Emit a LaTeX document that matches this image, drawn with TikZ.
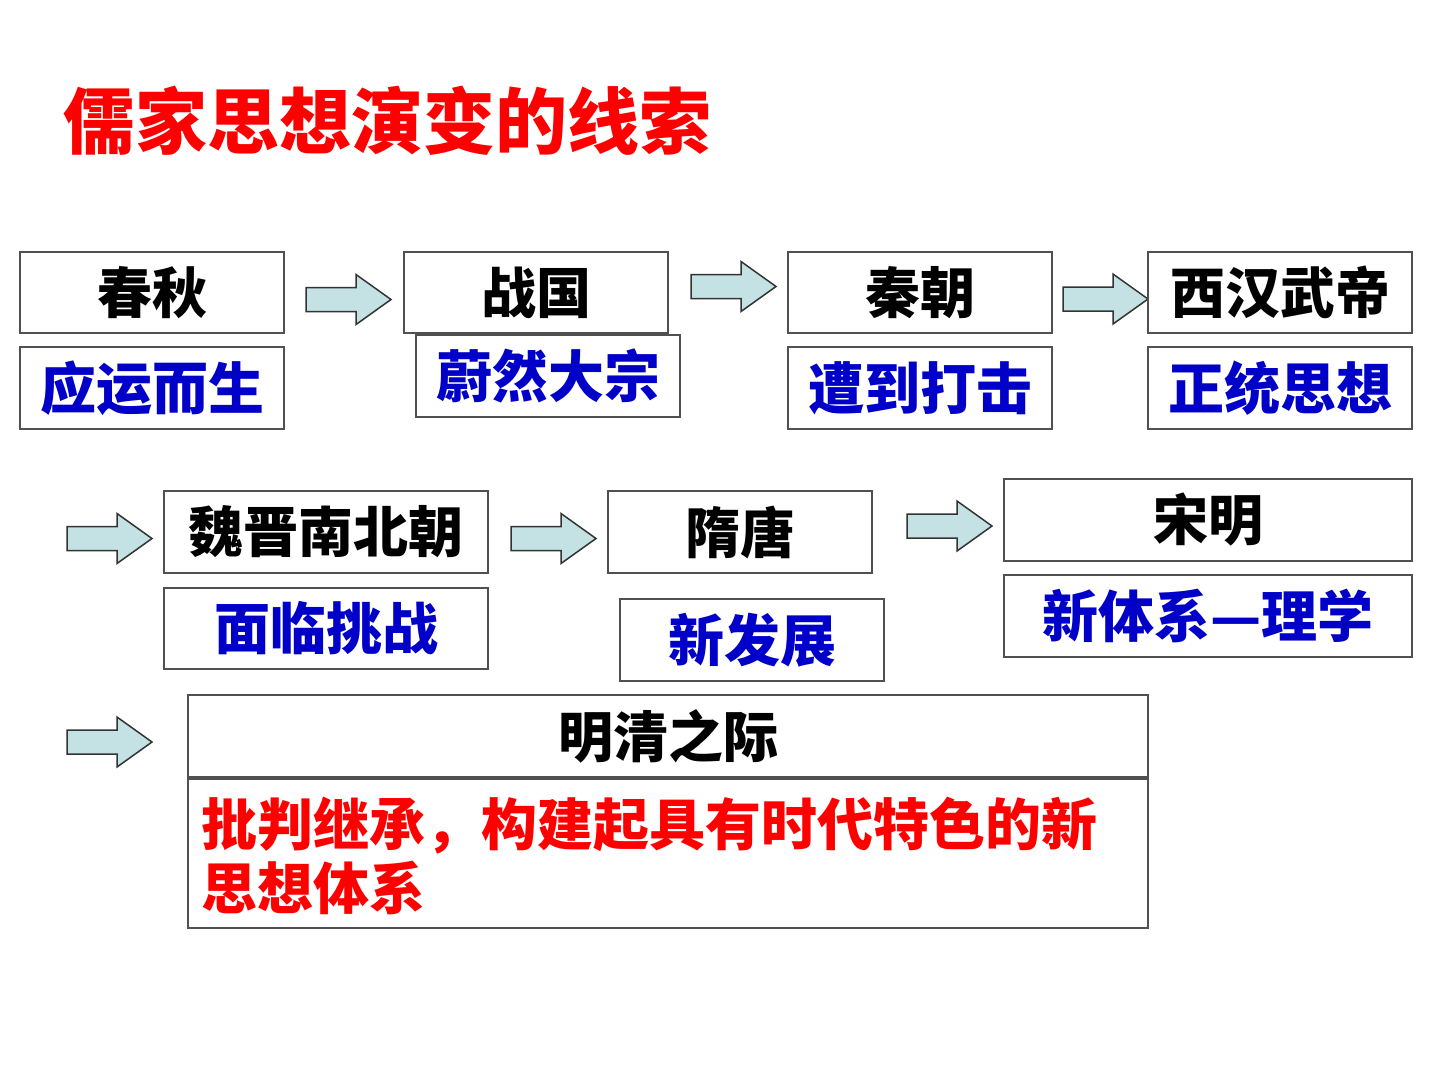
\documentclass[tikz,border=0pt]{standalone}
\usepackage{fontspec}
\newfontfamily\cjk{Noto Sans CJK SC}
\definecolor{boxline}{RGB}{80,80,80}
\definecolor{arrowfill}{RGB}{196,226,228}
\definecolor{bluetxt}{RGB}{0,0,200}
\definecolor{redtxt}{RGB}{255,0,0}
\tikzset{
  box/.style={draw=boxline, line width=2pt, fill=white, inner sep=0pt, anchor=north west},
  hd/.style={font=\cjk\bfseries\fontsize{55}{60}\selectfont, text=black},
  sub/.style={font=\cjk\bfseries\fontsize{56}{60}\selectfont, text=bluetxt},
  blockarrow/.pic={
    \draw[draw=black!80, line width=1.5pt, fill=arrowfill, line join=miter]
      (0,-12) -- (50,-12) -- (50,-25) -- (85,0) -- (50,25) -- (50,12) -- (0,12) -- cycle;
  }
}
\begin{document}
\begin{tikzpicture}[x=1pt,y=-1pt]
\useasboundingbox (0,0) rectangle (1440,1080);
\fill[white] (0,0) rectangle (1440,1080);

% title
\node[font=\cjk\bfseries\fontsize{72}{80}\selectfont, text=redtxt, anchor=west] (title) at (60,121) {儒家思想演变的线索};

% row 1
\node[box, hd, minimum width=264pt, minimum height=81pt] (cq) at (19,251) {春秋};
\node[box, sub, minimum width=264pt, minimum height=82pt] (cqs) at (19,346) {应运而生};
\pic (a1) at (306,299.5) {blockarrow};
\node[box, hd, minimum width=264pt, minimum height=81pt] (zg) at (403,251) {战国};
\node[box, sub, minimum width=264pt, minimum height=82pt] (zgs) at (415,334) {蔚然大宗};
\pic (a2) at (691,286.5) {blockarrow};
\node[box, hd, minimum width=264pt, minimum height=81pt] (qc) at (787,251) {秦朝};
\node[box, sub, minimum width=264pt, minimum height=82pt] (qcs) at (787,346) {遭到打击};
\pic (a3) at (1063,299) {blockarrow};
\node[box, hd, minimum width=264pt, minimum height=81pt] (xh) at (1147,251) {西汉武帝};
\node[box, sub, minimum width=264pt, minimum height=82pt] (xhs) at (1147,346) {正统思想};

% row 2
\pic (a4) at (67,538.5) {blockarrow};
\node[box, hd, minimum width=324pt, minimum height=82pt] (wj) at (163,490) {魏晋南北朝};
\node[box, sub, minimum width=324pt, minimum height=81pt] (wjs) at (163,587) {面临挑战};
\pic (a5) at (511,538.5) {blockarrow};
\node[box, hd, minimum width=264pt, minimum height=82pt] (st) at (607,490) {隋唐};
\node[box, sub, minimum width=264pt, minimum height=82pt] (sts) at (619,598) {新发展};
\pic (a6) at (907,526) {blockarrow};
\node[box, hd, minimum width=408pt, minimum height=82pt] (sm) at (1003,478) {宋明};
\node[box, sub, minimum width=408pt, minimum height=82pt] (sms) at (1003,574) {新体系—理学};

% row 3
\pic (a7) at (67,742) {blockarrow};
\node[box, hd, minimum width=960pt, minimum height=82pt] (mq) at (187,694) {明清之际};
\node[box, minimum width=960pt, minimum height=149pt] (mqs) at (187,778) {};
\node[font=\cjk\bfseries\fontsize{56}{64}\selectfont, text=redtxt, anchor=north west, align=left, inner sep=0pt] (mqt) at (201,797) {批判继承，构建起具有时代特色的新\\思想体系};
\end{tikzpicture}
\end{document}
